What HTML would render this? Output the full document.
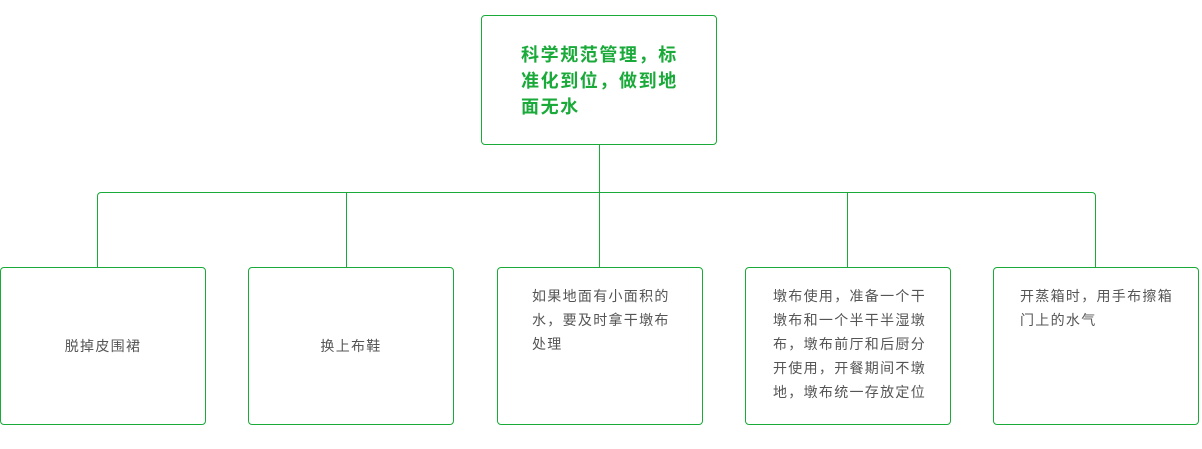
<!DOCTYPE html>
<html><head><meta charset="utf-8"><style>
body{margin:0;width:1202px;height:449px;background:#fff;position:relative;overflow:hidden;font-family:"Liberation Sans","Noto Sans CJK SC",sans-serif}
.b{position:absolute;border:1px solid #1aaa3a;border-radius:4px;box-sizing:border-box;background:#fff}
.l{position:absolute;background:#1aaa3a}
.t{position:absolute;color:#555;font-size:14px;line-height:24px;letter-spacing:1.3px}
</style></head><body>
<div class="l" style="left:599px;top:144px;width:1px;height:48px"></div>
<div class="b" style="left:97px;top:192px;width:999px;height:80px;border-bottom:none;background:transparent;border-radius:4px 4px 0 0"></div>
<div class="l" style="left:346px;top:192px;width:1px;height:76px"></div>
<div class="l" style="left:599px;top:192px;width:1px;height:76px"></div>
<div class="l" style="left:847px;top:192px;width:1px;height:76px"></div>
<div class="b" style="left:481px;top:15px;width:236px;height:130px"></div>
<div style="position:absolute;left:521px;top:42px;width:175px;color:#1aaa3a;font-weight:bold;font-size:18px;line-height:26px;letter-spacing:1.6px">科学规范管理，标准化到位，做到地面无水</div>
<div class="b" style="left:0;top:267px;width:206px;height:158px"></div>
<div class="b" style="left:248px;top:267px;width:206px;height:158px"></div>
<div class="b" style="left:497px;top:267px;width:206px;height:158px"></div>
<div class="b" style="left:745px;top:267px;width:206px;height:158px"></div>
<div class="b" style="left:993px;top:267px;width:206px;height:158px"></div>
<div class="t" style="left:0;width:206px;top:334px;text-align:center">脱掉皮围裙</div>
<div class="t" style="left:248px;width:206px;top:334px;text-align:center">换上布鞋</div>
<div class="t" style="left:532px;top:284px;width:150px">如果地面有小面积的水，要及时拿干墩布处理</div>
<div class="t" style="left:773px;top:284px;width:160px">墩布使用，准备一个干墩布和一个半干半湿墩布，墩布前厅和后厨分开使用，开餐期间不墩地，墩布统一存放定位</div>
<div class="t" style="left:1020px;top:284px;width:160px">开蒸箱时，用手布擦箱门上的水气</div>
</body></html>
